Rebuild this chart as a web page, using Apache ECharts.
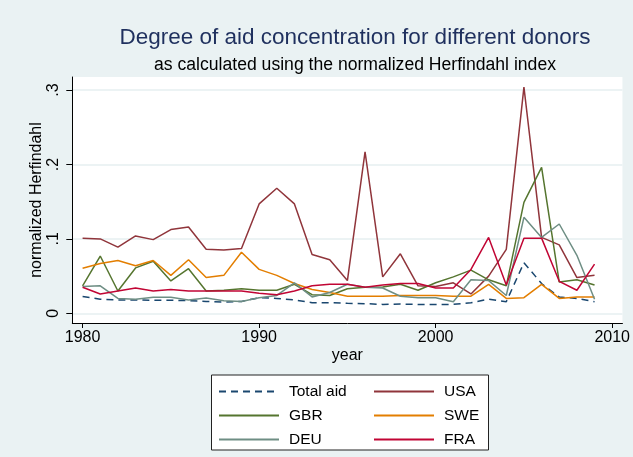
<!DOCTYPE html>
<html>
<head>
<meta charset="utf-8">
<script src="https://cdn.jsdelivr.net/npm/echarts@6/dist/echarts.min.js"></script>
<style>
html,body{margin:0;padding:0;background:#EAF2F3;}
#chart{width:633px;height:457px;}
</style>
</head>
<body>
<div id="chart"></div>
<script>
const years = [1980,1981,1982,1983,1984,1985,1986,1987,1988,1989,
               1990,1991,1992,1993,1994,1995,1996,1997,1998,1999,
               2000,2001,2002,2003,2004,2005,2006,2007,2008,2009];
const xTicks = [1980, 1990, 2000, 2010];
const yTicks = [0, 0.1, 0.2, 0.3];
const yTickLabels = {0: '0', 0.1: '.1', 0.2: '.2', 0.3: '.3'};

const totalAid = [0.0225,0.019,0.018,0.018,0.0175,0.0175,0.017,0.016,0.015,0.016,
                  0.021,0.020,0.018,0.0143,0.0143,0.0135,0.013,0.012,0.0125,0.012,
                  0.012,0.012,0.0142,0.019,0.0156,0.068,0.040,0.022,0.020,0.0156];
const usa = [0.101,0.100,0.089,0.104,0.099,0.1125,0.116,0.086,0.085,0.087,
             0.147,0.168,0.147,0.079,0.072,0.044,0.217,0.049,0.080,0.037,
             0.036,0.041,0.026,0.050,0.086,0.304,0.102,0.092,0.048,0.051];
const gbr = [0.037,0.077,0.030,0.061,0.070,0.0435,0.060,0.030,0.031,0.033,
             0.031,0.031,0.039,0.025,0.024,0.033,0.035,0.0355,0.039,0.031,
             0.041,0.049,0.058,0.045,0.037,0.149,0.196,0.042,0.045,0.038];
const swe = [0.0605,0.067,0.071,0.064,0.071,0.051,0.072,0.048,0.051,0.082,
             0.059,0.051,0.040,0.032,0.028,0.023,0.023,0.023,0.024,0.024,
             0.024,0.023,0.023,0.039,0.020,0.021,0.039,0.020,0.022,0.022];
const deu = [0.036,0.037,0.020,0.019,0.0215,0.0215,0.018,0.0205,0.017,0.016,
             0.021,0.024,0.041,0.022,0.028,0.039,0.035,0.034,0.023,0.021,
             0.021,0.0156,0.045,0.044,0.024,0.129,0.102,0.120,0.078,0.019];
const fra = [0.035,0.026,0.030,0.034,0.030,0.032,0.030,0.030,0.030,0.030,
             0.027,0.025,0.030,0.037,0.039,0.039,0.035,0.038,0.040,0.040,
             0.034,0.034,0.059,0.102,0.038,0.101,0.101,0.043,0.031,0.066];

const seriesDefs = [
  {name: 'Total aid', values: totalAid, color: '#1a476f', dash: [7, 5]},
  {name: 'USA', values: usa, color: '#90353b', dash: 'solid'},
  {name: 'GBR', values: gbr, color: '#55752f', dash: 'solid'},
  {name: 'SWE', values: swe, color: '#e37e00', dash: 'solid'},
  {name: 'DEU', values: deu, color: '#6e8e84', dash: 'solid'},
  {name: 'FRA', values: fra, color: '#c10534', dash: 'solid'}
];

const FONT = '"Liberation Sans", Arial, Helvetica, sans-serif';
const chart = echarts.init(document.getElementById('chart'), null, {renderer: 'canvas'});

const legendCommon = {
  orient: 'vertical',
  padding: 0,
  itemWidth: 60,
  itemHeight: 14,
  itemGap: 8,
  selectedMode: false,
  itemStyle: {opacity: 0},
  textStyle: {fontFamily: FONT, fontSize: 15.5, color: '#000', padding: [0, 0, 0, 5]}
};

chart.setOption({
  backgroundColor: '#EAF2F3',
  animation: false,
  title: [
    {text: 'Degree of aid concentration for different donors', left: 350, top: 21.5, textAlign: 'center',
     textStyle: {fontFamily: FONT, fontSize: 22.5, fontWeight: 'normal', color: '#1f305e'}},
    {text: 'as calculated using the normalized Herfindahl index', left: 350, top: 51.5, textAlign: 'center',
     textStyle: {fontFamily: FONT, fontSize: 17.6, fontWeight: 'normal', color: '#000'}}
  ],
  graphic: [{
    type: 'rect', z: 0,
    shape: {x: 211.5, y: 375, width: 277, height: 75},
    style: {fill: '#fff', stroke: '#222', lineWidth: 1}
  }],
  legend: [
    Object.assign({data: ['Total aid', 'GBR', 'DEU'], left: 218, top: 383.5}, legendCommon),
    Object.assign({data: ['USA', 'SWE', 'FRA'], left: 373, top: 383.5}, legendCommon)
  ],
  grid: {left: 72.3, right: 5, top: 77, bottom: 134, show: true, backgroundColor: '#fff', borderWidth: 0, containLabel: false},
  xAxis: {
    type: 'value', min: 1979.417, max: 2010.58,
    name: 'year', nameLocation: 'middle', nameGap: 25, nameMoveOverlap: false,
    nameTextStyle: {fontFamily: FONT, fontSize: 16, color: '#000'},
    axisLine: {show: true, onZero: false, lineStyle: {color: '#000', width: 1}},
    axisTick: {show: true, length: 5, customValues: xTicks, lineStyle: {color: '#000'}},
    axisLabel: {customValues: xTicks, margin: 7, fontFamily: FONT, fontSize: 16, color: '#000',
                formatter: v => String(Math.round(v))},
    splitLine: {show: false}
  },
  yAxis: {
    type: 'value', min: -0.013, max: 0.3175,
    name: 'normalized Herfindahl', nameLocation: 'middle', nameGap: 27.5, nameRotate: 90, nameMoveOverlap: false,
    nameTextStyle: {fontFamily: FONT, fontSize: 16, color: '#000'},
    axisLine: {show: true, onZero: false, lineStyle: {color: '#000', width: 1}},
    axisTick: {show: true, length: 6, customValues: yTicks, lineStyle: {color: '#000'}},
    axisLabel: {customValues: yTicks, rotate: 90, margin: 11, fontFamily: FONT, fontSize: 16, color: '#000',
                formatter: v => yTickLabels[Math.round(v * 10) / 10] ?? ''},
    splitLine: {show: true, lineStyle: {color: '#E6EFF1', width: 1.5}}
  },
  series: seriesDefs.map(s => ({
    name: s.name,
    type: 'line',
    symbol: 'none',
    smooth: false,
    clip: true,
    color: s.color,
    lineStyle: {color: s.color, width: 1.5, type: s.dash},
    data: years.map((y, i) => [y, s.values[i]])
  }))
});
</script>
</body>
</html>
